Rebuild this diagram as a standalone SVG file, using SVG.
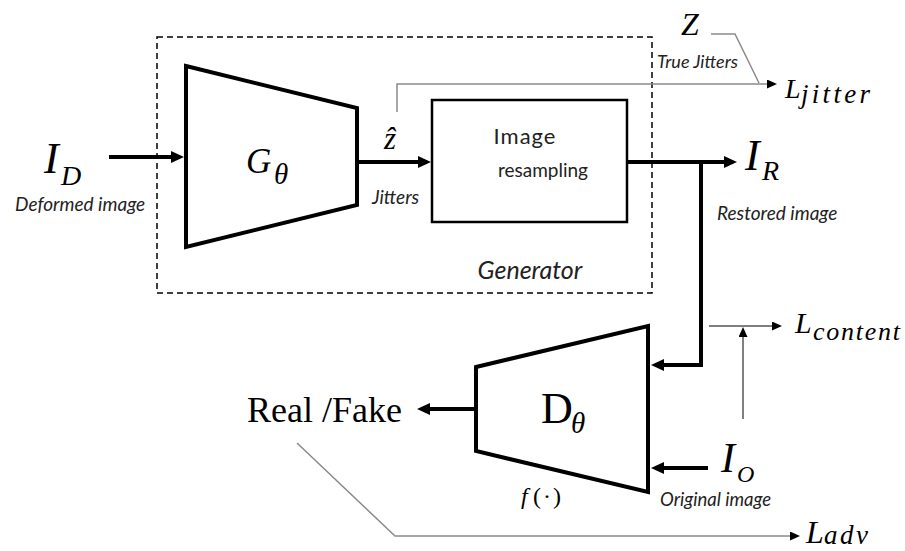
<svg xmlns="http://www.w3.org/2000/svg" width="905" height="551" viewBox="0 0 905 551">
<style>
.math{font-family:"Liberation Serif","DejaVu Serif",serif;font-style:italic;fill:#000}
.rm{font-family:"Liberation Serif","DejaVu Serif",serif;fill:#000}
.lab{font-family:Lato,"Open Sans","Liberation Sans",sans-serif;font-style:italic;fill:#222}
.sans{font-family:Lato,"Open Sans","Liberation Sans",sans-serif;fill:#222}
.blk{fill:#fff;stroke:#000;stroke-width:4;stroke-linejoin:miter}
.box{fill:#fff;stroke:#000;stroke-width:2.5}
.thick{fill:none;stroke:#000;stroke-width:4}
.gray{fill:none;stroke:#8a8a8a;stroke-width:1.5}
.thin{fill:none;stroke:#000;stroke-width:1}
.dash{fill:none;stroke:#000;stroke-width:1.5;stroke-dasharray:6 4}
</style>
<defs>
<marker id="ah" markerUnits="userSpaceOnUse" markerWidth="14" markerHeight="12" refX="4" refY="6" orient="auto"><path d="M0,0 L13,6 L0,12 z" fill="#000"/></marker>
<marker id="ahs" markerUnits="userSpaceOnUse" markerWidth="11" markerHeight="9" refX="3" refY="4.5" orient="auto"><path d="M0,0 L10,4.5 L0,9 z" fill="#000"/></marker>
</defs>
<rect width="905" height="551" fill="#fff"/>

<g id="generator-frame">
<rect class="dash" x="157" y="37" width="495" height="256"/>
<text class="lab" x="530" y="279" font-size="25" text-anchor="middle">Generator</text>
</g>

<g id="connectors">
<line class="thick" x1="109" y1="157" x2="175" y2="157" marker-end="url(#ah)"/>
<line class="thick" x1="357" y1="162" x2="422" y2="162" marker-end="url(#ah)"/>
<line class="thick" x1="627" y1="162" x2="728" y2="162" marker-end="url(#ah)"/>
<polyline class="thick" points="701,162 701,365 660,365" marker-end="url(#ah)"/>
<line class="thick" x1="476" y1="409" x2="426" y2="409" marker-end="url(#ah)"/>
<line class="thick" x1="708" y1="468" x2="660" y2="468" marker-end="url(#ah)"/>
<polyline class="gray" points="397,112 397,84 770,84" marker-end="url(#ahs)"/>
<polyline class="gray" points="711,34 735,34 759,83"/>
<polyline class="gray" points="297,443 395,536 793,536" marker-end="url(#ahs)"/>
<line class="thin" x1="709" y1="326" x2="775" y2="326" marker-end="url(#ahs)"/>
<line class="thin" x1="743" y1="419" x2="743" y2="334" marker-end="url(#ahs)"/>
</g>

<g id="G">
<polygon class="blk" points="186,66 357,108 357,205 186,247"/>
<text class="math" x="246" y="173" font-size="35">G</text>
<text class="math" x="274" y="184" font-size="29">θ</text>
</g>

<g id="resampling">
<rect class="box" x="432" y="100" width="195" height="122"/>
<text class="sans" x="525" y="144" font-size="22" letter-spacing="1" text-anchor="middle">Image</text>
<text class="sans" x="543" y="177" font-size="19" text-anchor="middle">resampling</text>
</g>

<g id="D">
<polygon class="blk" points="476,367 648,326 648,492 476,451"/>
<text class="rm" x="541" y="423" font-size="44">D</text>
<text class="math" x="571" y="433" font-size="29">θ</text>
<text class="math" x="521" y="504" font-size="24">f</text>
<text class="rm" x="533" y="504" font-size="24" letter-spacing="2">(·)</text>
</g>

<g id="ID">
<text class="math" x="44" y="173" font-size="44">I</text>
<text class="math" x="61" y="185" font-size="28">D</text>
<text class="lab" x="15" y="211" font-size="19">Deformed image</text>
</g>

<g id="zhat">
<text class="math" x="384" y="149" font-size="31">ẑ</text>
<text class="lab" x="372" y="204" font-size="19">Jitters</text>
</g>

<g id="Z">
<text class="math" x="681" y="35" font-size="32">Z</text>
<text class="lab" x="657" y="68" font-size="18">True Jitters</text>
</g>

<g id="Ljitter">
<text class="math" x="785" y="98" font-size="28">L</text>
<text class="math" x="801" y="103" font-size="27" textLength="69" lengthAdjust="spacing">jitter</text>
</g>

<g id="IR">
<text class="math" x="745" y="170" font-size="44">I</text>
<text class="math" x="762" y="180" font-size="28">R</text>
<text class="lab" x="717" y="220" font-size="19">Restored image</text>
</g>

<g id="Lcontent">
<text class="math" x="795" y="333" font-size="30">L</text>
<text class="math" x="813" y="340" font-size="26" textLength="87" lengthAdjust="spacing">content</text>
</g>

<g id="RealFake">
<text class="rm" x="247" y="422" font-size="36">Real /Fake</text>
</g>

<g id="IO">
<text class="math" x="721" y="472" font-size="42">I</text>
<text class="math" x="737" y="482" font-size="24">O</text>
<text class="lab" x="660" y="506" font-size="18.5">Original image</text>
</g>

<g id="Ladv">
<text class="math" x="806" y="543" font-size="32">L</text>
<text class="math" x="824" y="544" font-size="27" textLength="44" lengthAdjust="spacing">adv</text>
</g>
</svg>
